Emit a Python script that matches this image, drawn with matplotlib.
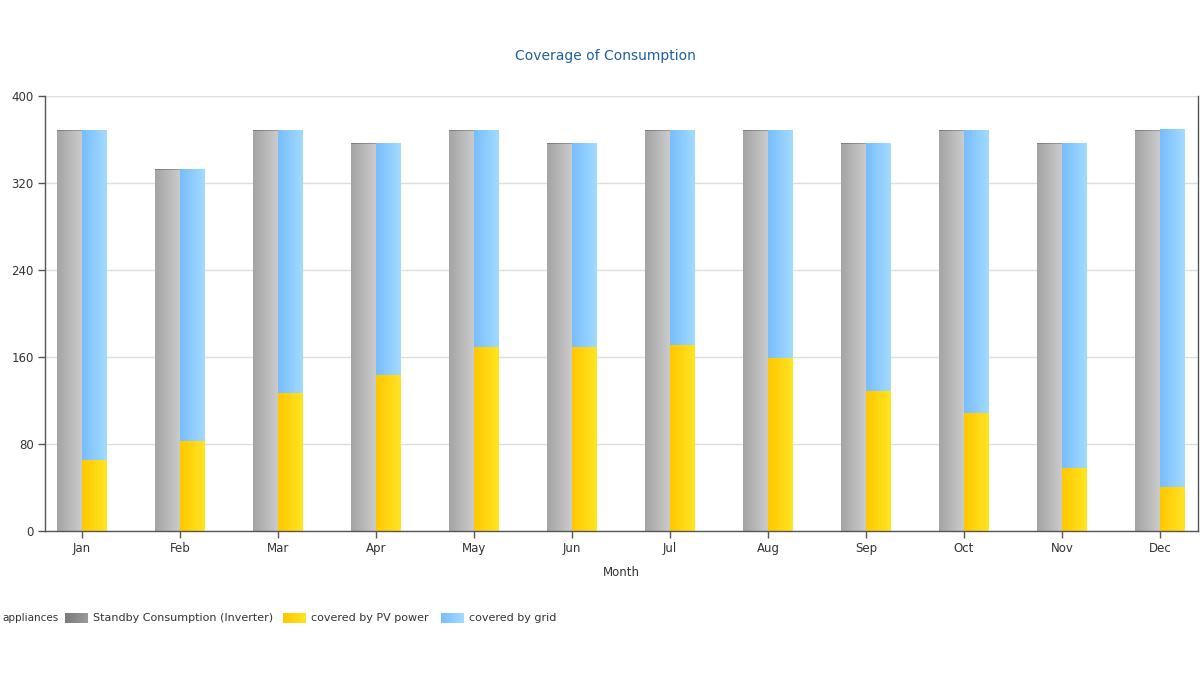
import numpy as np
import matplotlib
matplotlib.use("Agg")
import matplotlib.pyplot as plt
from matplotlib.colors import LinearSegmentedColormap

months = ["Jan", "Feb", "Mar", "Apr", "May", "Jun", "Jul", "Aug", "Sep", "Oct", "Nov", "Dec"]
appliances = [367.5, 331.7, 367.5, 355.6, 367.5, 355.6, 367.5, 367.5, 355.6, 367.5, 355.6, 367.5]
standby = [1.2, 1.2, 1.2, 1.2, 1.2, 1.2, 1.2, 1.2, 1.2, 1.2, 1.2, 1.2]
pv_power = [65.3, 82.8, 126.9, 143.4, 169.2, 169.2, 171.0, 159.1, 128.7, 108.5, 57.9, 40.5]
grid_power = [303.4, 250.1, 241.8, 213.4, 199.5, 187.6, 197.7, 209.6, 228.1, 260.2, 298.9, 329.1]
yticks = [0, 80, 160, 240, 320, 400]

grad = {
    "app": ("#a4a4a4", "#cbcbcb"),
    "stb": ("#7a7a7a", "#9a9a9a"),
    "pv": ("#ffc800", "#ffe422"),
    "grid": ("#78bdfc", "#a2dbff"),
}

fig = plt.figure(figsize=(12, 6.79), dpi=100)
ax = fig.add_axes([45/1200, 1-531/679, (1198-45)/1200, (531-96)/679])

x = np.arange(len(months))
w = 0.255

def gbar(xs, h, bottom, key, align_left):
    left = xs - w if align_left else xs
    bars = ax.bar(left, h, width=w, bottom=bottom, align="edge", color=grad[key][0], linewidth=0, zorder=2)
    cmap = LinearSegmentedColormap.from_list(key, list(grad[key]))
    g = np.linspace(0, 1, 64).reshape(1, -1)
    for b in bars:
        bx, by = b.get_x(), b.get_y()
        bw, bh = b.get_width(), b.get_height()
        im = ax.imshow(g, cmap=cmap, aspect="auto", extent=[bx, bx + bw, by, by + bh], zorder=2.1, interpolation="bilinear")
        im.set_clip_path(b)
    return bars

gbar(x, appliances, 0, "app", True)
gbar(x, standby, appliances, "stb", True)
gbar(x, pv_power, 0, "pv", False)
gbar(x, grid_power, pv_power, "grid", False)

ax.set_xlim(-0.378, 11.388)
ax.set_ylim(0, 400)
ax.set_yticks(yticks)
ax.set_yticklabels([str(t) for t in yticks])
ax.set_xticks(x)
ax.set_xticklabels(months)
ax.grid(axis="y", color="#dddddd", linewidth=1, zorder=0)
ax.set_axisbelow(True)
for s in ["left", "bottom", "right"]:
    ax.spines[s].set_color("#555555")
    ax.spines[s].set_linewidth(1)
ax.spines["top"].set_visible(False)
ax.tick_params(axis="both", colors="#555555", labelcolor="#333333", labelsize=8.5, length=5, width=1)
ax.tick_params(axis="y", pad=3)
ax.tick_params(axis="x", pad=3)
ax.set_xlabel("Month", fontsize=8.5, color="#333333", labelpad=8)

fig.text(605/1200, 1-56/679, "Coverage of Consumption", ha="center", va="center", fontsize=10, color="#1f5fa0")

# legend
ly = 1 - 618/679
items = [
    ("appliances", "app", None, 2),
    ("Standby Consumption (Inverter)", "stb", 65, None),
    ("covered by PV power", "pv", 283, None),
    ("covered by grid", "grid", 441, None),
]
for label, key, px, tx_left in items:
    if px is None:
        fig.text(tx_left/1200, ly, label, ha="left", va="center", fontsize=7.5, color="#333333")
        continue
    cmap = LinearSegmentedColormap.from_list(key + "l", list(grad[key]))
    lax = fig.add_axes([px/1200, 1-623/679, 23/1200, 10/679])
    lax.imshow(np.linspace(0, 1, 32).reshape(1, -1), cmap=cmap, aspect="auto")
    lax.set_axis_off()
    fig.text((px + 28)/1200, ly, label, ha="left", va="center", fontsize=8, color="#333333")

fig.savefig("out.png", dpi=100)
